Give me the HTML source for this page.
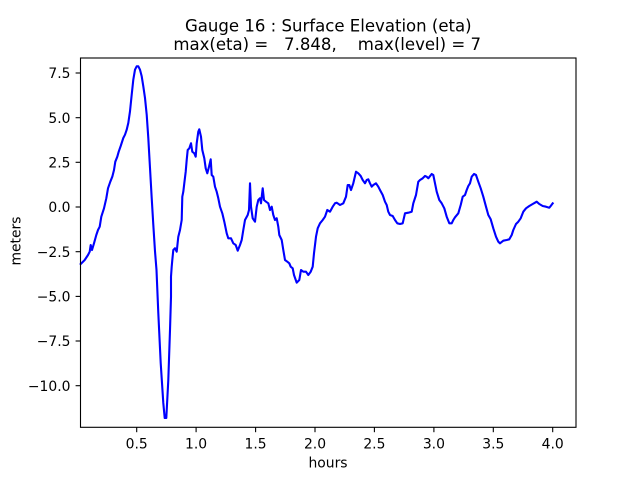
<!DOCTYPE html>
<html><head><meta charset="utf-8"><style>
html,body{margin:0;padding:0;background:#fff;}
svg{display:block;}
text{font-family:"DejaVu Sans","Liberation Sans",sans-serif;fill:#000;}
</style></head><body>
<svg width="640" height="480" viewBox="0 0 640 480" xmlns="http://www.w3.org/2000/svg">
<rect x="0" y="0" width="640" height="480" fill="#fff"/>
<polyline fill="none" stroke="#0000ff" stroke-width="2.1" stroke-linejoin="round" stroke-linecap="square" points="
80.7,264 84.7,260 88,255 89.7,251.7 90.7,245 92,250 94,243.3 96.3,235 98,230 99.7,226.7 101.3,216.7 104,208.3 106.3,198.3 108,188.3 110.3,181.7 112.3,176.7 114,170 115.3,161.7 117.3,156.7 118.7,151.7 120.7,146 123.3,138 125,134.7 126.7,129.7 128.3,123 130,111.3 131.7,94.7 133.3,79.7 135,69.7 136.7,66.3 138.3,66.3 140,69.7 141.7,76.3 143.3,86.3 145,98 146.7,114.7 148.3,138 150,168 151.7,198 153.3,224.7 155,251.3 156.5,270 158.3,313 160.7,363 163.3,403 164.7,418 166.3,418 168.3,380 170,330 171,296.7 171,276.7 171.7,266.7 172.3,260 173.3,250 175,248.3 176.7,251.7 178.3,236.7 180,230 181.7,220 182.3,196.7 183.3,191.7 184.3,183.3 185.7,171.7 186.7,160 187.7,150 189.3,148.3 191,143.3 192.3,151.7 194.3,153.3 195.7,156.7 196.7,143.3 198.3,131.7 199.3,129.3 201,136.7 202.3,150 204.3,158.3 205.7,168.3 207.3,173.3 209,166.7 210.7,159.3 211.7,175 213.3,176.7 215,186.7 216.7,191.7 218.3,198.3 220,206.7 222.3,213.3 224.3,221.7 226.7,233.3 228.3,238.3 231,238.3 233.3,243.3 235.7,245 237.7,250.7 240,245 241.7,240 243.3,230 245,220 247.7,215 249,210 250,183.3 251,206.7 252.7,218.3 255,221.7 256.7,206.7 258.3,200 260,198.3 261,203.3 262.7,188.3 264,200 266,201.7 268.3,203.3 270,210 271.7,206.7 273.3,215 275,220 276.7,218.3 278.3,226.7 279.3,235 281.7,240 283.3,250 285,260 287.3,261.7 289.3,263.3 290.7,266.7 292.7,268.3 294,275 296.7,282.7 299.3,280 301,270 303.3,271.7 306,271.7 308.3,275 310.7,271.7 312.7,266.7 314,253.3 316,236.7 317.7,228.3 320,223.3 322.7,220 325,216.7 327.3,210 330,211.7 332.7,206.7 335,203.3 336.7,202.7 340,205 343.3,203.3 346,196.7 347.7,185 349.3,185 351,190 353.3,183.3 356,171.7 358.3,173.3 360.7,176 362.7,180 365,183.3 366.7,180 368.3,179.3 370,183.3 371.7,186.7 373.3,185 376,183.3 378.3,186.7 380,190 382.7,195 385,201.7 386.7,205 388.3,211.7 390,215 392.7,216 395,220 397.3,223.3 400,224 402.7,223.3 405,213.3 408.3,212.7 411.7,211.7 413.3,203.3 416,195 418.3,181.7 420,180 422.7,178.3 425,176 426.7,176.7 428.3,178.3 431.7,174 433.3,175 435,183.3 436.7,191.7 439.3,200 441.7,203.3 444.3,208.3 446.7,216.7 449.3,223.3 451.7,223.3 453.3,220 455,217.3 458.3,213.3 460.7,205 462.7,196.7 465,195 466.7,190 468.3,186 470,183.3 471.7,176.7 474,174 476,175 478.3,181.7 480.7,188.3 483.3,196.7 486,206.7 488.3,215 490.7,219.3 493.3,228.3 496,236.7 498.3,241.7 500,243.3 503.3,240.7 506.7,240 509.3,239.3 511.7,235 513.3,230 516,224 518.3,221.7 520.7,218.3 523.3,211.7 526,208.3 529.3,206 532.7,204 535,202.7 536.7,201.7 539.3,204 542.7,206 546,206.7 549.3,207.7 550.7,206 552.7,203.3"/>
<rect x="80.5" y="58" width="495.5" height="369.3" fill="none" stroke="#000" stroke-width="1.1"/>
<g stroke="#000" stroke-width="1.1">
<line x1="136.7" y1="427.3" x2="136.7" y2="432.2"/>
<line x1="196.1" y1="427.3" x2="196.1" y2="432.2"/>
<line x1="255.6" y1="427.3" x2="255.6" y2="432.2"/>
<line x1="315.0" y1="427.3" x2="315.0" y2="432.2"/>
<line x1="374.4" y1="427.3" x2="374.4" y2="432.2"/>
<line x1="433.9" y1="427.3" x2="433.9" y2="432.2"/>
<line x1="493.3" y1="427.3" x2="493.3" y2="432.2"/>
<line x1="552.7" y1="427.3" x2="552.7" y2="432.2"/>
<line x1="75.6" y1="73.0" x2="80.5" y2="73.0"/>
<line x1="75.6" y1="117.7" x2="80.5" y2="117.7"/>
<line x1="75.6" y1="162.3" x2="80.5" y2="162.3"/>
<line x1="75.6" y1="207.0" x2="80.5" y2="207.0"/>
<line x1="75.6" y1="251.7" x2="80.5" y2="251.7"/>
<line x1="75.6" y1="296.4" x2="80.5" y2="296.4"/>
<line x1="75.6" y1="341.0" x2="80.5" y2="341.0"/>
<line x1="75.6" y1="385.7" x2="80.5" y2="385.7"/>
</g>
<g font-size="13.9" text-anchor="middle">
<text x="136.7" y="448.5">0.5</text>
<text x="196.1" y="448.5">1.0</text>
<text x="255.6" y="448.5">1.5</text>
<text x="315.0" y="448.5">2.0</text>
<text x="374.4" y="448.5">2.5</text>
<text x="433.9" y="448.5">3.0</text>
<text x="493.3" y="448.5">3.5</text>
<text x="552.7" y="448.5">4.0</text>
</g>
<g font-size="13.9" text-anchor="end">
<text x="70.5" y="78.1">7.5</text>
<text x="70.5" y="122.8">5.0</text>
<text x="70.5" y="167.4">2.5</text>
<text x="70.5" y="212.1">0.0</text>
<text x="70.5" y="256.8">−2.5</text>
<text x="70.5" y="301.5">−5.0</text>
<text x="70.5" y="346.1">−7.5</text>
<text x="70.5" y="390.8">−10.0</text>
</g>
<text x="328" y="467.3" font-size="13.9" text-anchor="middle">hours</text>
<text x="0" y="0" font-size="13.9" text-anchor="middle" transform="translate(20.7,241) rotate(-90)">meters</text>
<text x="328.3" y="31.5" font-size="16.67" text-anchor="middle" textLength="286.7" lengthAdjust="spacingAndGlyphs">Gauge 16 : Surface Elevation (eta)</text>
<text x="327.2" y="50" font-size="16.67" text-anchor="middle" xml:space="preserve" style="white-space:pre" textLength="307.7" lengthAdjust="spacingAndGlyphs">max(eta) =   7.848,    max(level) = 7</text>
</svg>
</body></html>
